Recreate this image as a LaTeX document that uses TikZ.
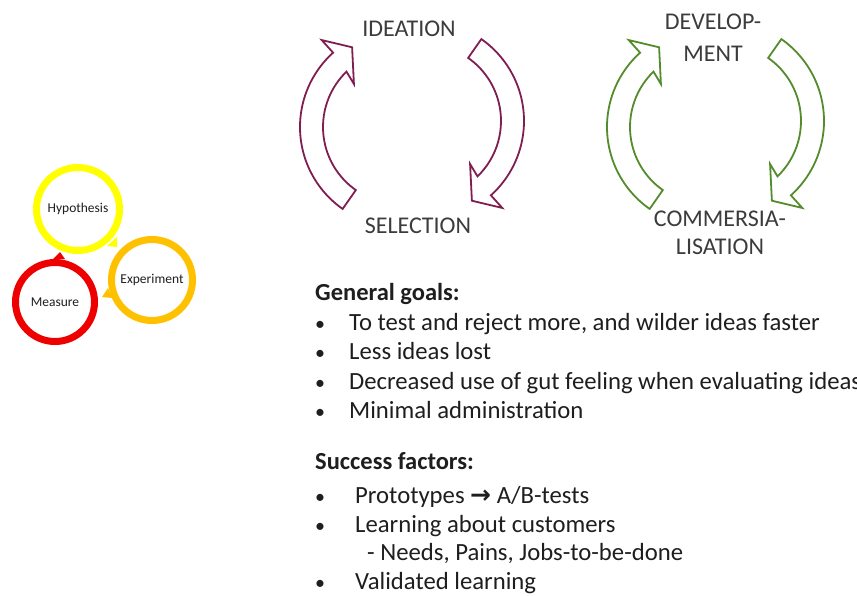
\documentclass[tikz,border=0pt]{standalone}
\usepackage{fontspec}
\setmainfont{Carlito}
\newfontfamily\symfont{DejaVu Sans}
\definecolor{plum}{RGB}{128,30,82}
\definecolor{leaf}{RGB}{84,140,44}
\definecolor{ringY}{RGB}{255,255,0}
\definecolor{ringO}{RGB}{255,192,0}
\definecolor{ringR}{RGB}{238,0,0}
\definecolor{txt}{RGB}{30,30,30}
\definecolor{lbl}{RGB}{60,60,60}
\tikzset{
  pics/bendarrow/.style={code={
    \draw[pic actions] (125:100) arc[start angle=125,end angle=228,radius=100]
      -- (228:117) -- (239:93) -- (223:63) -- (226:77)
      arc[start angle=226,end angle=125,radius=77] -- cycle;
  }},
  ring/.style={circle, line width=7pt, fill=white, text=txt, inner sep=0pt,
    font=\fontsize{13.5}{15}\selectfont},
  stagelabel/.style={text=lbl, align=center, inner sep=0pt,
    font=\fontsize{24}{30}\selectfont},
  bodytext/.style={text=txt, anchor=base west, inner sep=0pt,
    font=\fontsize{24.7}{30}\selectfont},
  bullettext/.style={text=txt, anchor=base, inner sep=0pt,
    font=\fontsize{20}{24}\selectfont},
  headtext/.style={bodytext, font=\fontsize{24.5}{30}\selectfont\bfseries},
}
\begin{document}
\begin{tikzpicture}[x=1pt,y=-1pt]
\clip (0,0) rectangle (857,595);
\fill[white] (0,0) rectangle (857,595);

% left cycle
\node[ring, draw=ringY, minimum size=83pt] (hyp) at (78,209) {Hypothesis};
\node[ring, draw=ringO, minimum size=81pt] (exp) at (152,280) {Experiment};
\node[ring, draw=ringR, minimum size=79pt] (mea) at (55,302) {Measure};
\fill[ringY] (107,246) -- (117,237) -- (117,247) -- cycle;
\fill[ringO] (102,297) -- (108,288) -- (112,298) -- cycle;
\fill[ringR] (53,259) -- (60,252) -- (65,259) -- cycle;

% purple arrows
\pic[draw=plum, line width=1.8pt, fill=white] at (400,127) {bendarrow};
\pic[draw=plum, line width=1.8pt, fill=white, rotate=180] at (424,121) {bendarrow};
% green arrows
\pic[draw=leaf, line width=1.8pt, fill=white] at (707,127) {bendarrow};
\pic[draw=leaf, line width=1.8pt, fill=white, rotate=180] at (724,121) {bendarrow};

\node[stagelabel] (idea) at (409,29) {IDEATION};
\node[stagelabel] (sel) at (418,226) {SELECTION};
\node[stagelabel, font=\fontsize{24}{32}\selectfont] (dev) at (713,38) {DEVELOP-\\MENT};
\node[stagelabel, font=\fontsize{24}{28}\selectfont] (com) at (720,233) {COMMERSIA-\\LISATION};

% text
\node[headtext] (gg) at (315,300) {General goals:};
\node[bullettext] (b1) at (320,330) {•};
\node[bodytext] (t1) at (349,330) {To test and reject more, and wilder ideas faster};
\node[bullettext] (b2) at (320,359) {•};
\node[bodytext] (t2) at (349,359) {Less ideas lost};
\node[bullettext] (b3) at (320,389) {•};
\node[bodytext] (t3) at (349,389) {Decreased use of gut feeling when evaluating ideas};
\node[bullettext] (b4) at (320,418) {•};
\node[bodytext] (t4) at (349,418) {Minimal administration};

\node[headtext] (sf) at (315,469) {Success factors:};
\node[bullettext] (b5) at (320,503) {•};
\node[bodytext] (t5) at (355,503) {Prototypes {\symfont\bfseries\fontsize{25}{28}\selectfont →} A/B-tests};
\node[bullettext] (b6) at (320,532) {•};
\node[bodytext] (t6) at (355,532) {Learning about customers};
\node[bodytext] (t7) at (367,560) {- Needs, Pains, Jobs-to-be-done};
\node[bullettext] (b8) at (320,589) {•};
\node[bodytext] (t8) at (355,589) {Validated learning};
\end{tikzpicture}
\end{document}
